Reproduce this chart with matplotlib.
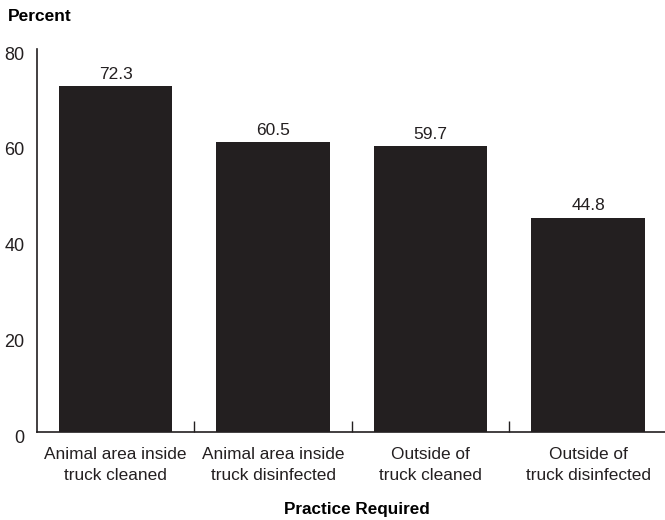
import matplotlib.pyplot as plt
import matplotlib.transforms as mtransforms
import numpy as np

categories = ["Animal area inside\ntruck cleaned", "Animal area inside\ntruck disinfected",
              "Outside of\ntruck cleaned", "Outside of\ntruck disinfected"]
values = [72.3, 60.5, 59.7, 44.8]

plt.rcParams['font.family'] = ['Liberation Sans', 'DejaVu Sans']

fig = plt.figure(figsize=(6.65, 5.2), dpi=100)
ax = fig.add_axes([0.0556, 0.169, 0.947, 0.737])

x = np.arange(len(categories))
bars = ax.bar(x, values, width=0.72, color='#231f20')
for xi, v in zip(x, values):
    ax.annotate(f"{v:.1f}", (xi, v), xytext=(0, 3), textcoords='offset points',
                ha='center', va='bottom', fontsize=12.5, color='#231f20')

ax.set_xlim(-0.5, 3.5)
ax.set_ylim(0, 80)
ax.set_yticks([0, 20, 40, 60, 80])
ax.tick_params(axis='y', length=0, labelsize=13, pad=9, colors='#231f20')
# y labels sit a few pixels below their values in the original
shift = mtransforms.ScaledTranslation(0, -3 / 72, fig.dpi_scale_trans)
for lbl in ax.get_yticklabels():
    lbl.set_transform(lbl.get_transform() + shift)
ax.set_xticks(x)
ax.set_xticklabels(categories, fontsize=12.4, color='#231f20', linespacing=1.5)
ax.tick_params(axis='x', length=0, pad=11)
ax.set_xticks([0.5, 1.5, 2.5], minor=True)
ax.tick_params(axis='x', which='minor', direction='in', length=8, width=1, color='#231f20')

for s in ['top', 'right']:
    ax.spines[s].set_visible(False)
for s in ['left', 'bottom']:
    ax.spines[s].set_color('#231f20')
    ax.spines[s].set_linewidth(1.2)

fig.text(0.012, 0.968, "Percent", fontsize=12.5, fontweight='bold', va='center', ha='left')
fig.text(0.537, 0.021, "Practice Required", fontsize=12.3, fontweight='bold', va='center', ha='center')

fig.savefig("out.png", dpi=100)
